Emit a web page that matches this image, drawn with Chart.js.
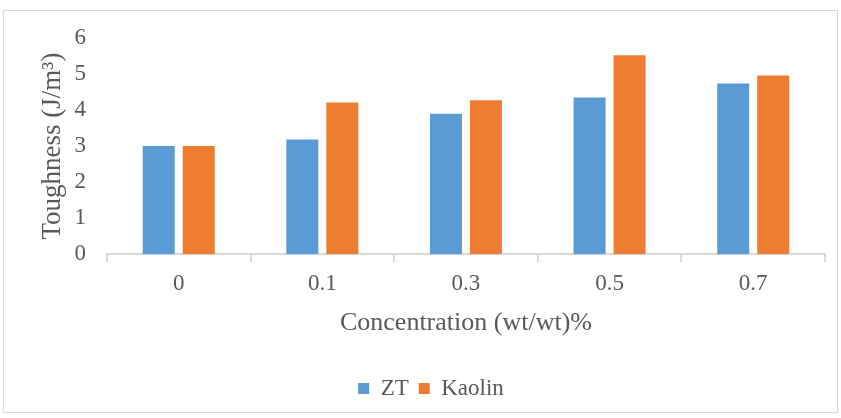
<!DOCTYPE html>
<html lang="en">
<head>
    <meta charset="UTF-8">
    <title>Toughness vs Concentration</title>
    <style>
        body {
          margin: 0;
          padding: 0;
          background: #fff;
        }

        .frame {
          position: absolute;
          left: 3px;
          top: 10px;
          width: 833px;
          height: 401px;
          border: 1px solid #d9d9d9;
        }
    </style>
</head>
<body>
<div class="frame">
    <canvas id="toughnessChart" width="833" height="401"></canvas>
</div>

<script src="https://cdn.jsdelivr.net/npm/chart.js"></script>
<script>
    // Concentrations on the x axis
    const concentrations = ['0', '0.1', '0.3', '0.5', '0.7'];

    // Toughness values (J/m3) for each filler
    const ztValues = [3.0, 3.18, 3.9, 4.35, 4.74];
    const kaolinValues = [3.0, 4.21, 4.27, 5.52, 4.96];

    const textColor = '#595959';
    const serif = "'Liberation Serif', 'Times New Roman', serif";

    Chart.defaults.font.family = serif;
    Chart.defaults.color = textColor;

    const ctx = document.getElementById('toughnessChart').getContext('2d');
    new Chart(ctx, {
      type: 'bar',
      data: {
        labels: concentrations,
        datasets: [
          {
            label: 'ZT',
            data: ztValues,
            backgroundColor: '#5b9bd5'
          },
          {
            label: 'Kaolin',
            data: kaolinValues,
            backgroundColor: '#ed7d31'
          }
        ]
      },
      options: {
        responsive: false,
        animation: false,
        categoryPercentage: 0.557,
        barPercentage: 0.8,
        layout: {
          padding: { top: 27, right: 12, bottom: 2, left: 33 }
        },
        plugins: {
          tooltip: { enabled: false },
          legend: {
            position: 'bottom',
            labels: {
              color: textColor,
              font: { family: serif, size: 23 },
              boxWidth: 11,
              boxHeight: 11,
              padding: 10
            }
          }
        },
        scales: {
          x: {
            border: { color: '#d9d9d9', width: 2 },
            grid: {
              drawOnChartArea: false,
              drawTicks: true,
              tickLength: 8,
              color: '#d9d9d9',
              lineWidth: 2
            },
            ticks: {
              color: textColor,
              font: { family: serif, size: 23 },
              padding: 8
            },
            title: {
              display: true,
              text: 'Concentration (wt/wt)%',
              color: textColor,
              font: { family: serif, size: 26 },
              padding: { top: 2, bottom: 28 }
            }
          },
          y: {
            min: 0,
            max: 6,
            border: { display: false },
            grid: { display: false },
            ticks: {
              stepSize: 1,
              color: textColor,
              font: { family: serif, size: 23 },
              padding: 13
            },
            title: {
              display: true,
              text: 'Toughness (J/m³)',
              color: textColor,
              font: { family: serif, size: 27 },
              padding: { top: 0, bottom: -8 }
            }
          }
        }
      }
    });
</script>
</body>
</html>
